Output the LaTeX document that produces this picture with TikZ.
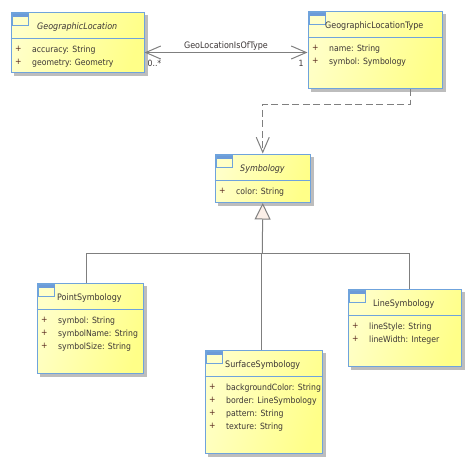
\documentclass[tikz,border=0pt]{standalone}
\usepackage{fontspec}
\setmainfont{DejaVu Sans Condensed}
\usetikzlibrary{arrows.meta, shadows}
\definecolor{umlblue}{HTML}{6FA3DC}
\definecolor{umlbar}{HTML}{6C9BD8}
\definecolor{umlline}{HTML}{7F7F7F}
\definecolor{umltext}{HTML}{3C3636}
\definecolor{umlplus}{HTML}{5A2A20}
\definecolor{umlpale}{HTML}{FFFFC8}
\definecolor{umldeep}{HTML}{FFFF88}
\definecolor{umlshadow}{HTML}{BDBDBD}
\definecolor{umltip}{HTML}{FBEFE8}

\begin{document}
\begin{tikzpicture}[
    x=1pt, y=-1pt,
    every node/.style={font=\fontsize{8.6}{13}\selectfont, text=umltext},
    umlbox/.style={
        draw=umlblue, line width=1pt, anchor=north west, inner sep=0pt,
        left color=umlpale, right color=umldeep, shading angle=72,
        drop shadow={shadow xshift=3pt, shadow yshift=-3pt, draw=umlshadow, fill=umlshadow, opacity=1},
    },
    title/.style={anchor=west, inner sep=0pt, font=\fontsize{8.9}{13}\selectfont},
    attrs/.style={anchor=north west, inner sep=0pt, align=left},
    plus/.style={attrs, text=umlplus},
    rel/.style={draw=umlline, line width=1pt},
    assoc/.style={rel, {Straight Barb[length=15pt, width=13pt]}-{Straight Barb[length=15pt, width=13pt]}},
    dep/.style={rel, dash pattern=on 7pt off 3.5pt, -{Straight Barb[length=15pt, width=13pt]}},
    gen/.style={rel, -{Triangle[length=16.5pt, width=16pt, open, fill=umltip]}},
    role/.style={inner sep=0pt},
]
\useasboundingbox (0,0) rectangle (471,464);

% classes
\node[umlbox, minimum width=133pt, minimum height=60.5pt] (gloc) at (10.5,11.5) {};
\node[umlbox, minimum width=134pt, minimum height=77.5pt] (gtype) at (307.5,10.5) {};
\node[umlbox, minimum width=95.5pt, minimum height=48.5pt] (symb) at (214.5,153.5) {};
\node[umlbox, minimum width=106.5pt, minimum height=90.5pt] (point) at (36.5,282.5) {};
\node[umlbox, minimum width=117.5pt, minimum height=103.5pt] (surf) at (204.5,349.5) {};
\node[umlbox, minimum width=113pt, minimum height=77.5pt] (line) at (347.5,288.5) {};

% compartments and icons
\foreach \n/\d in {gloc/26.5, gtype/26.5, symb/27, point/26.5, surf/26.5, line/26.5} {
    \draw[draw=umlblue, line width=1pt] (\n.north west) ++(0,\d) coordinate (divl) -- (divl -| \n.east);
    \draw[draw=umlblue, line width=1pt] (\n.north west) ++(2,2) rectangle ++(16,12);
    \fill[umlbar] (\n.north west) ++(2,2) rectangle ++(16,3.5);
}

% titles
\node[title, font=\fontsize{8.9}{13}\selectfont\itshape] (glocname) at (37,27) {GeographicLocation};
\node[title] (gtypename) at (325,26) {GeographicLocationType};
\node[title, font=\fontsize{8.9}{13}\selectfont\itshape] (symbname) at (240,169) {Symbology};
\node[title] (pointname) at (57,298) {PointSymbology};
\node[title] (surfname) at (225,365) {SurfaceSymbology};
\node[title] (linename) at (373,304) {LineSymbology};

% attributes
\node[plus] (glocplus) at (15,46) {+\\+};
\node[attrs] (glocattr) at (32,46) {accuracy: String\\geometry: Geometry};
\node[plus] (gtypeplus) at (312,45) {+\\+};
\node[attrs] (gtypeattr) at (329,45) {name: String\\symbol: Symbology};
\node[plus] (symbplus) at (219,188) {+};
\node[attrs] (symbattr) at (236,188) {color: String};
\node[plus] (pointplus) at (41,317) {+\\+\\+};
\node[attrs] (pointattr) at (58,317) {symbol: String\\symbolName: String\\symbolSize: String};
\node[plus] (surfplus) at (209,384) {+\\+\\+\\+};
\node[attrs] (surfattr) at (226,384) {backgroundColor: String\\border: LineSymbology\\pattern: String\\texture: String};
\node[plus] (lineplus) at (352,323) {+\\+};
\node[attrs] (lineattr) at (369,323) {lineStyle: String\\lineWidth: Integer};

% connectors
\coordinate (bus) at (262.3,253.6);
\draw[assoc] ([yshift=-10.25pt]gloc.east) -- node[above=1.5pt, inner sep=0pt, font=\fontsize{8.9}{13}\selectfont] (assocname) {GeoLocationIsOfType} ([yshift=-2.75pt]gtype.west);
\node[role] (from) at (154.5,63.5) {0..*};
\node[role] (to) at (301,63.5) {1};
\draw[dep] ([xshift=35pt]gtype.south) -- ++(0,15) -| (symb.north);
\draw[gen] (bus) -- (symb.south);
\draw[rel] ([xshift=-3.5pt]point.north) |- (bus);
\draw[rel] ([xshift=5pt]line.north) |- (bus);
\draw[rel] ([xshift=-2pt]surf.north) -- ([xshift=-2pt]surf.north |- bus);

\end{tikzpicture}
\end{document}
